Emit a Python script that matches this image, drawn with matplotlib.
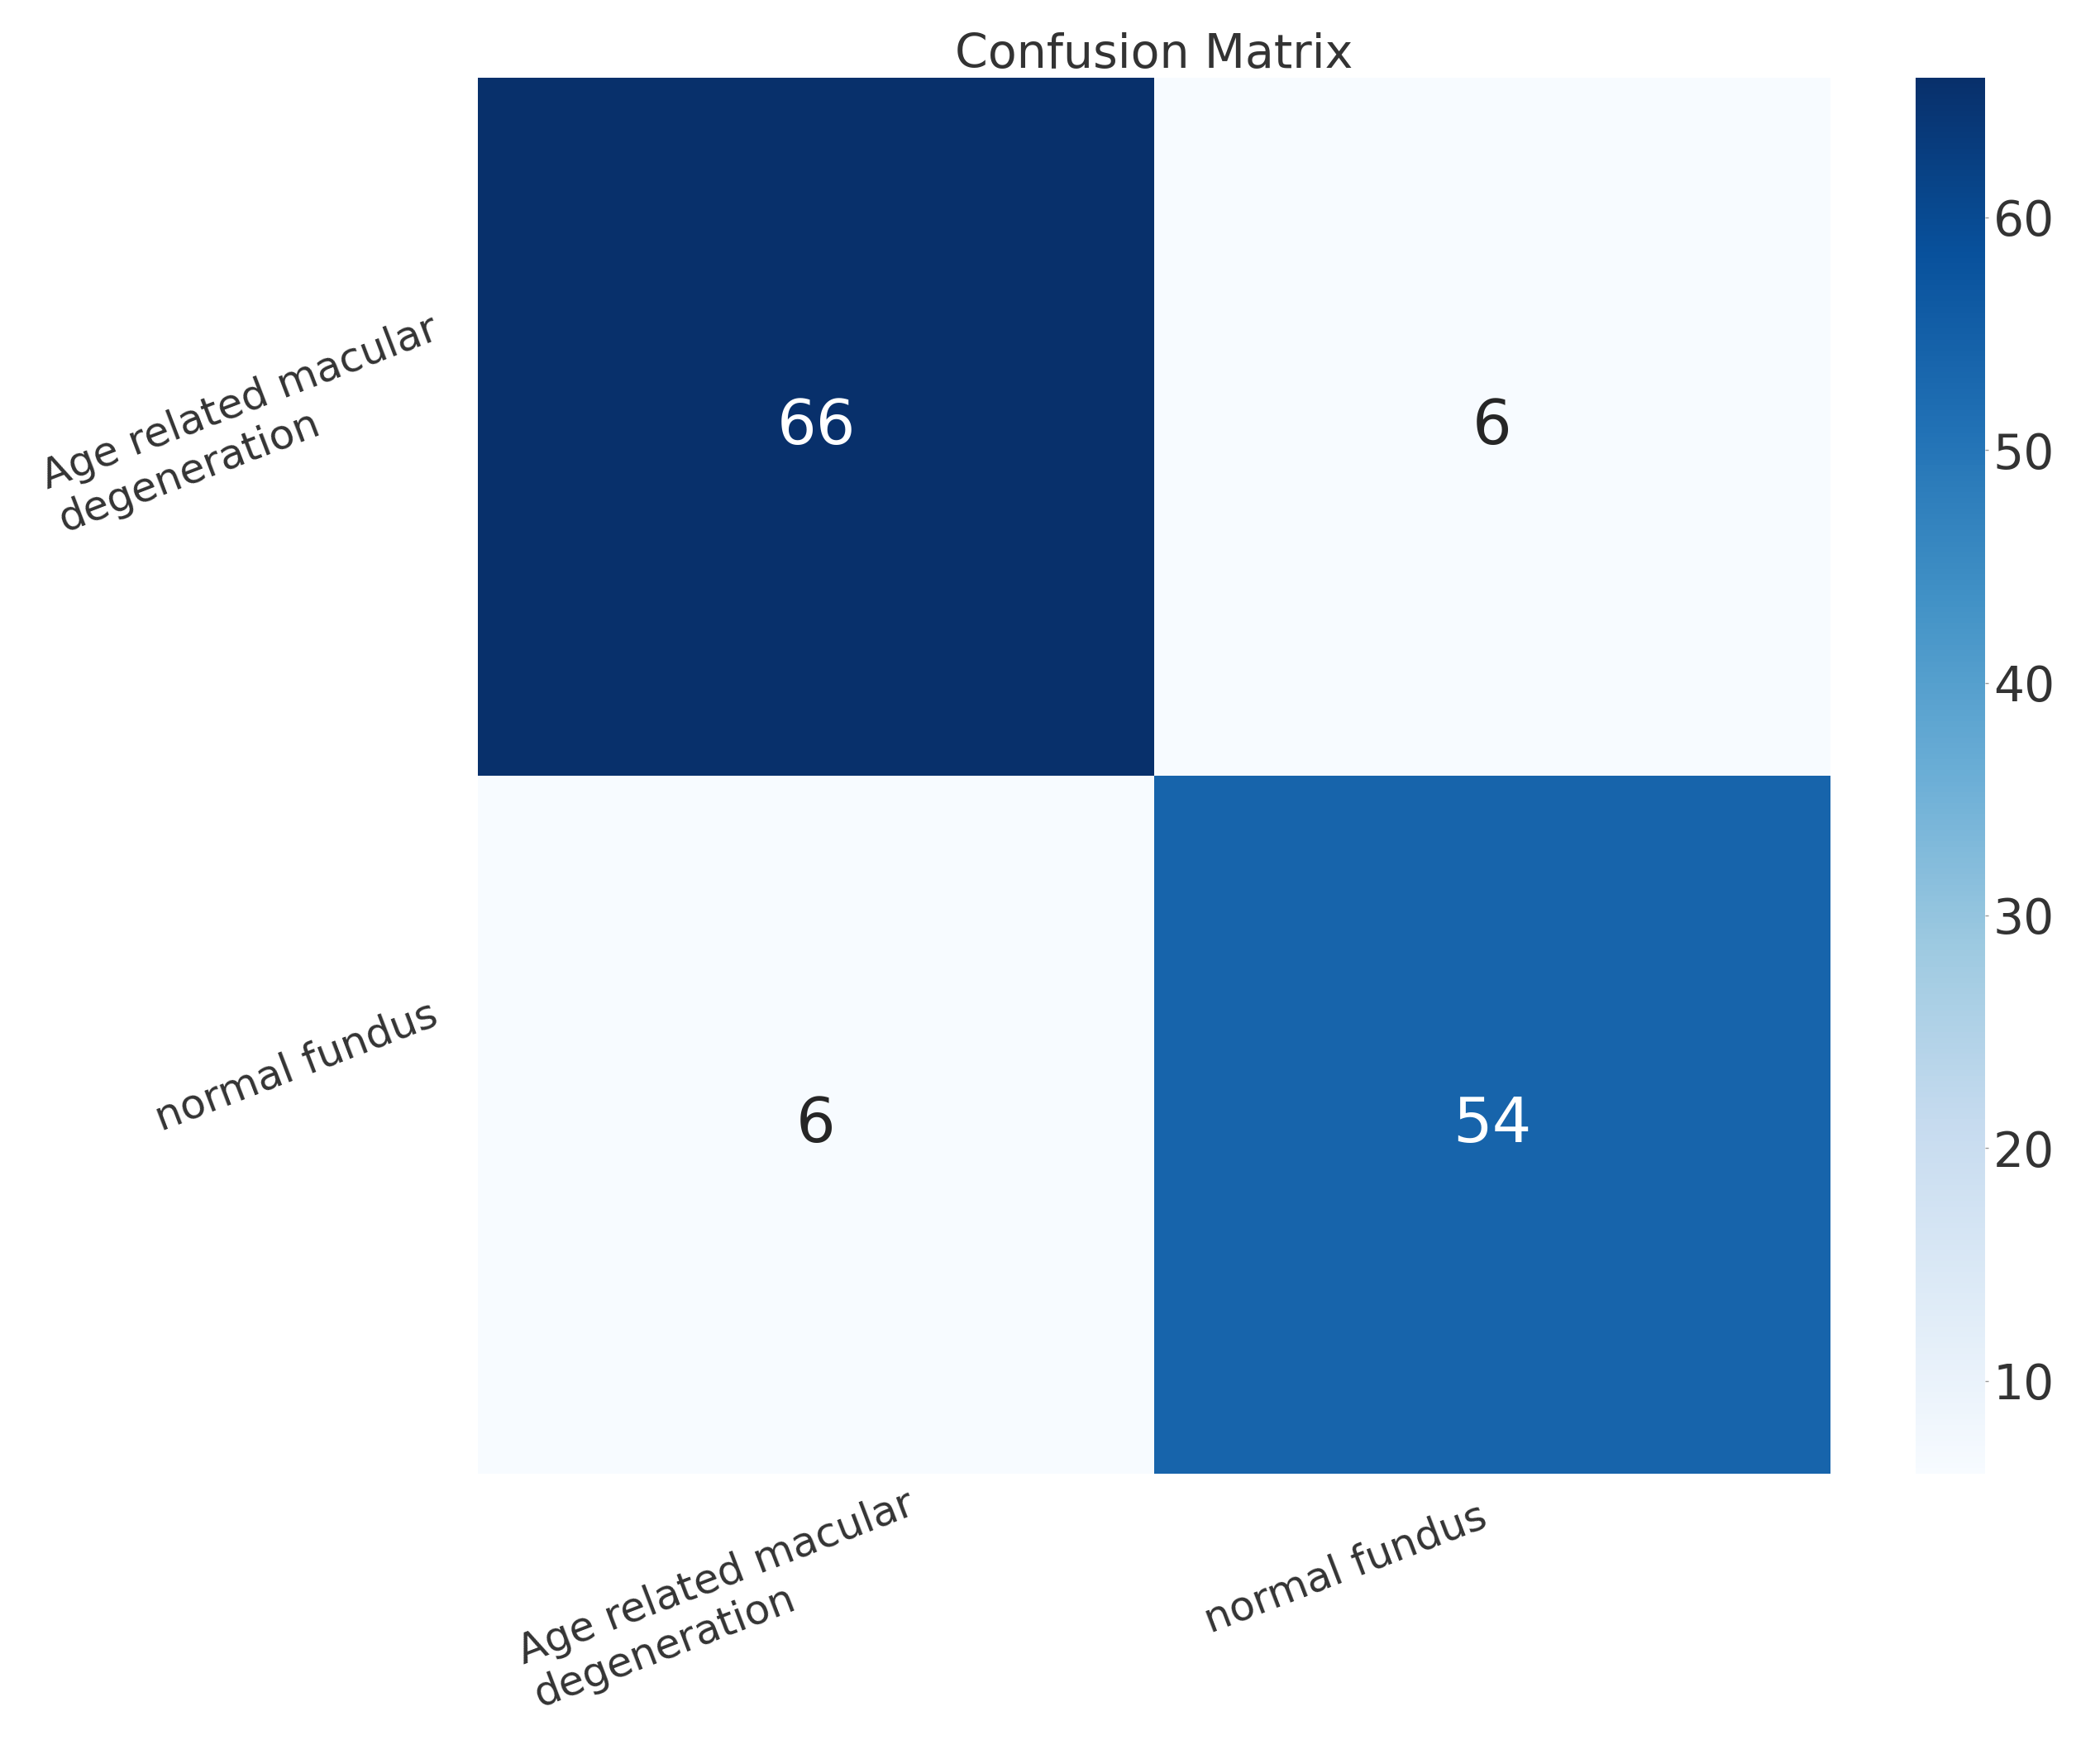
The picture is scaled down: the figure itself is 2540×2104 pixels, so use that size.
import matplotlib as mpl
mpl.use('agg')
import matplotlib.pyplot as plt
import matplotlib.transforms as mtransforms
import numpy as np
import seaborn as sns

class_names = ['Age related macular\ndegeneration', 'normal fundus']
counts = np.array([[66, 6],
                   [6, 54]])

plt.rcParams['font.family'] = ['DejaVu Sans']
plt.rcParams['text.color'] = '#2b2b2b'

fig = plt.figure(figsize=(25.4, 21.04), dpi=100)
ax = fig.add_axes([0.2276, 0.153, 0.6441, 0.8023])
cax = fig.add_axes([0.9122, 0.153, 0.0331, 0.8023])

sns.heatmap(counts, annot=True, fmt='d', cmap='Blues', ax=ax, cbar_ax=cax,
            annot_kws={'size': 54})

ax.set_title('Confusion Matrix', fontsize=41, pad=8, color='#333333')

ax.set_xticklabels(class_names, rotation=21, ha='right', va='top',
                   multialignment='left', fontsize=36, color='#333333')
ax.set_yticklabels(class_names, rotation=21, ha='right', va='center',
                   multialignment='left', fontsize=36, color='#333333')
ax.tick_params(axis='x', length=0, pad=20)
ax.tick_params(axis='y', length=0, pad=30)

# nudge individual labels to sit where the original put them
xl = ax.get_xticklabels()
xl[0].set_transform(xl[0].get_transform() +
                    mtransforms.ScaledTranslation(1.45, 0.15, fig.dpi_scale_trans))
yl = ax.get_yticklabels()
yl[0].set_transform(yl[0].get_transform() +
                    mtransforms.ScaledTranslation(0.2, 0.03, fig.dpi_scale_trans))
yl[1].set_transform(yl[1].get_transform() +
                    mtransforms.ScaledTranslation(0, 0.7, fig.dpi_scale_trans))

cax.tick_params(labelsize=42, length=3, width=1, color='#999999',
                labelcolor='#333333', pad=4)

plt.savefig('out.png', dpi=100, facecolor='white')
